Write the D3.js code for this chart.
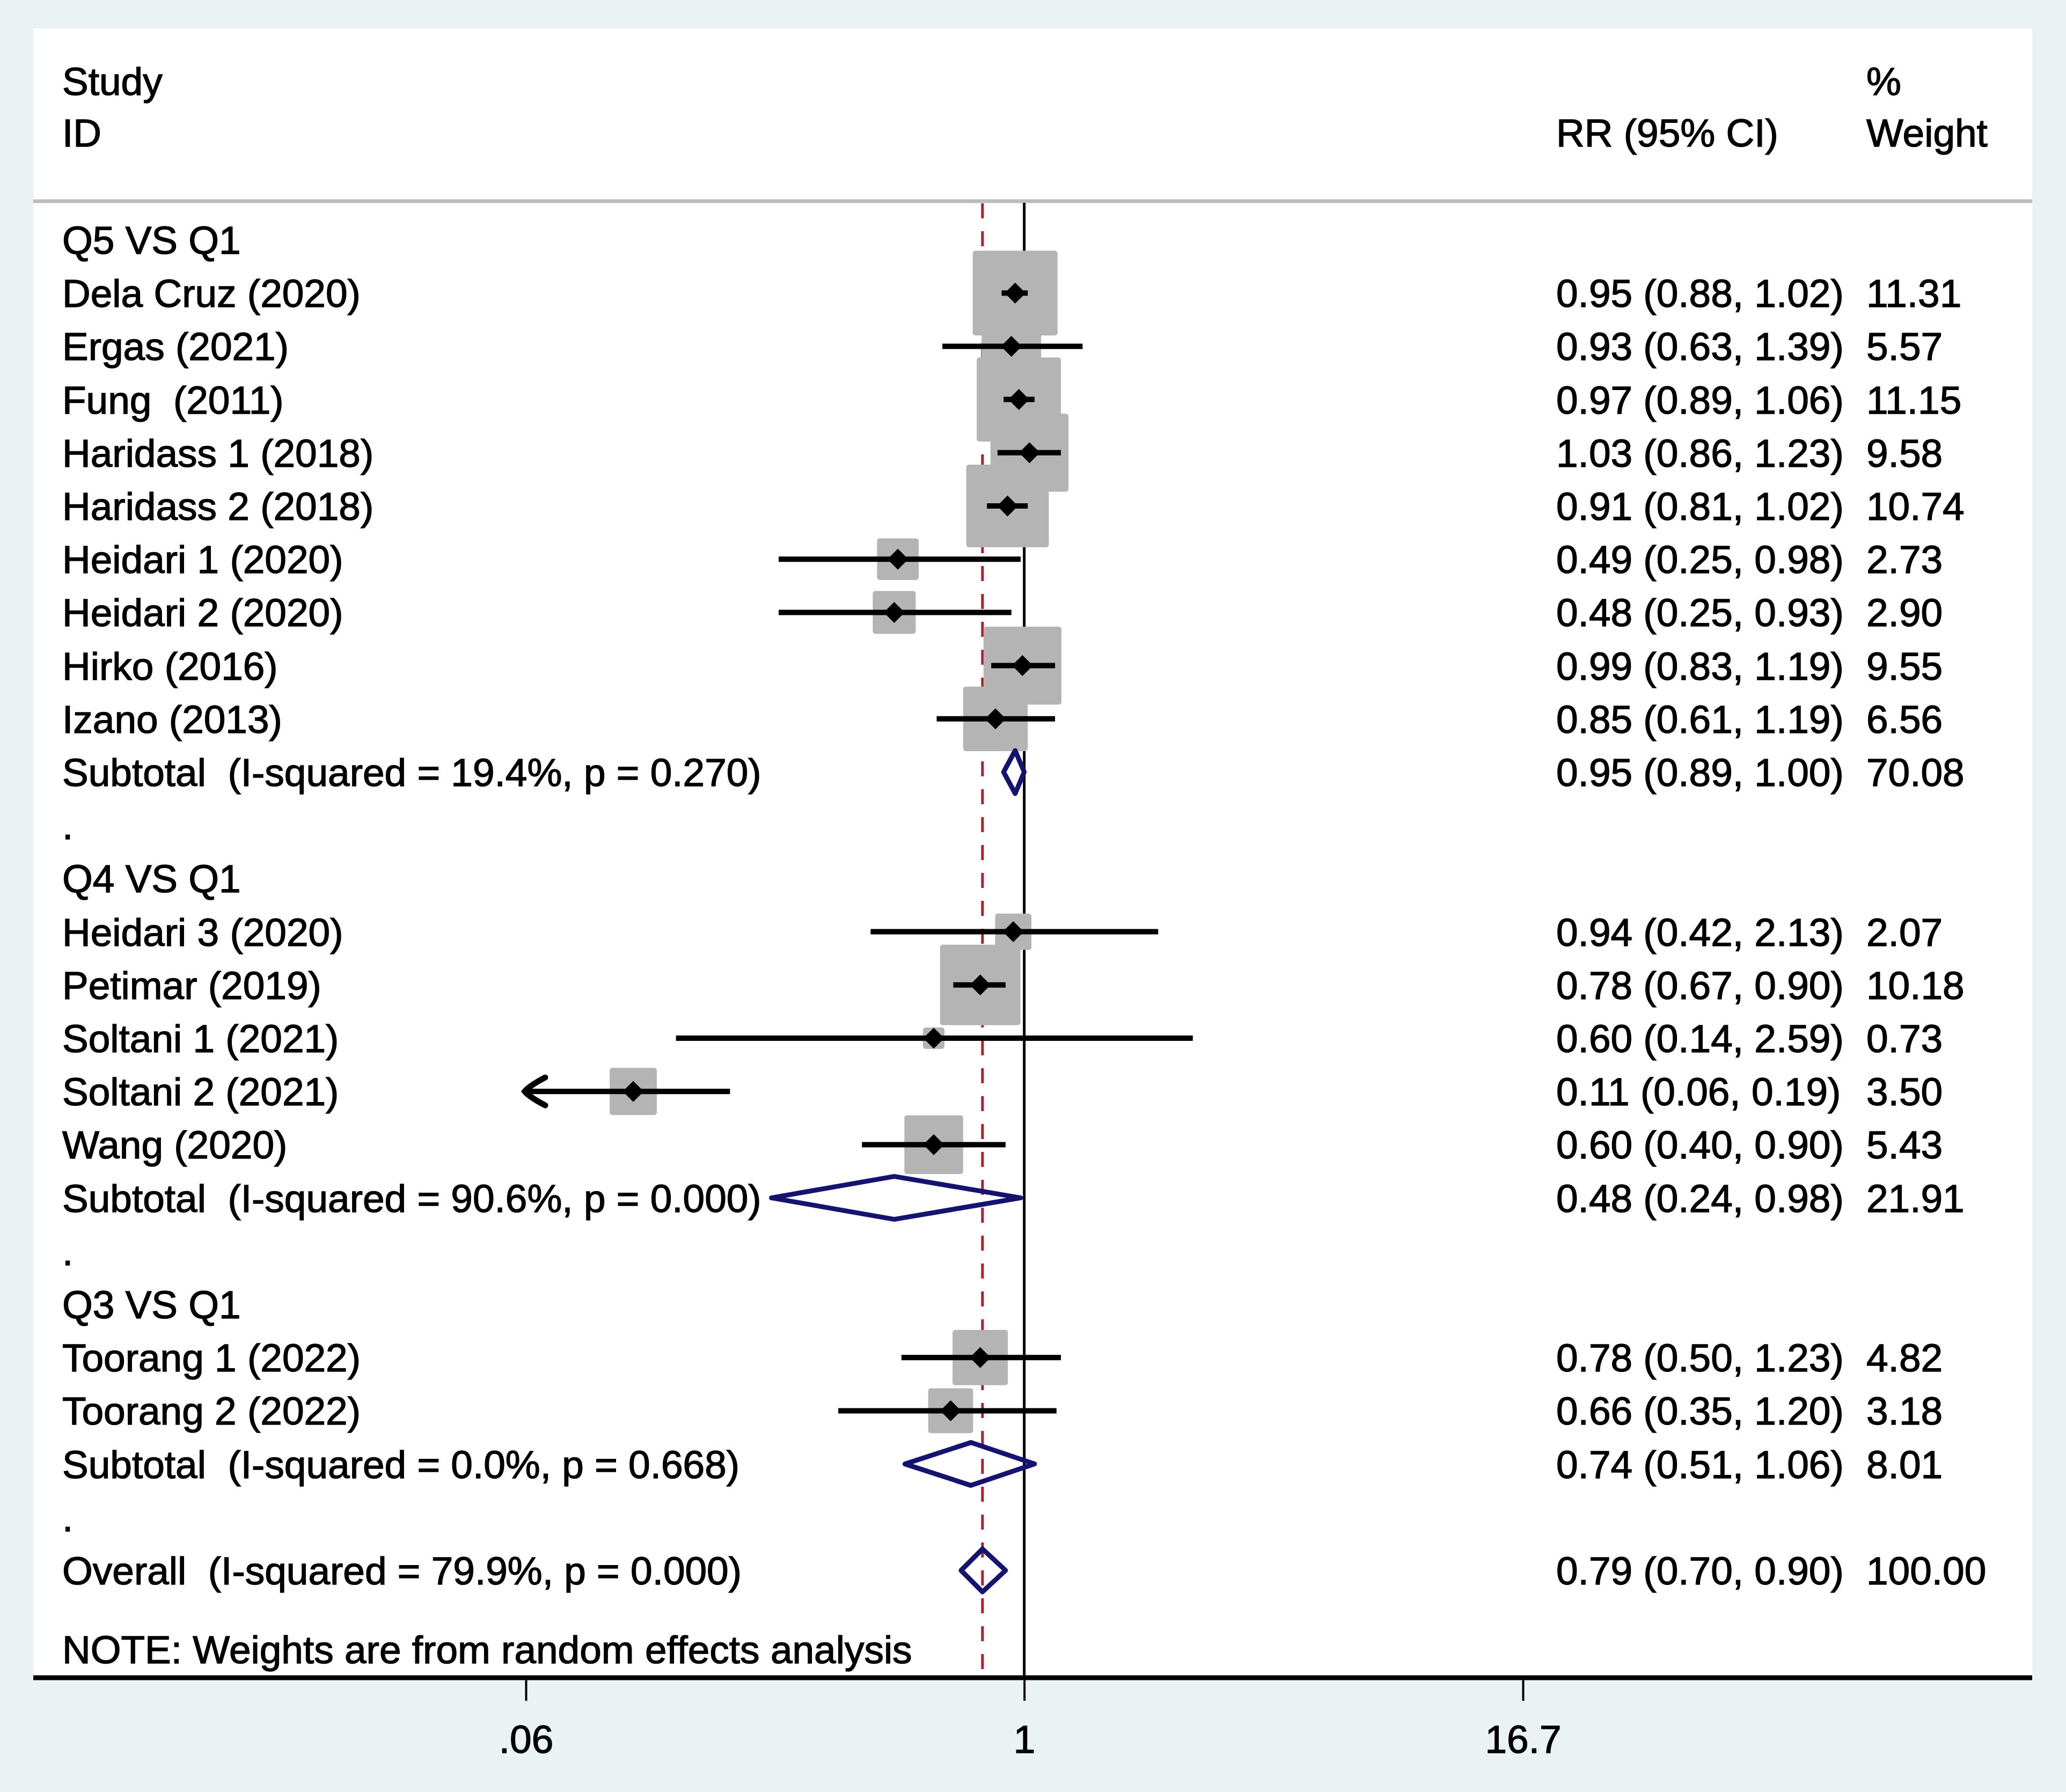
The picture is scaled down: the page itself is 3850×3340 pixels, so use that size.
<!DOCTYPE html>
<html>
<head>
<meta charset="utf-8">
<script src="https://cdn.jsdelivr.net/npm/d3@7"></script>
<style>
  html, body { margin: 0; padding: 0; background: #eaf2f3; }
  svg text { font-family: "Liberation Sans", Arial, sans-serif; white-space: pre; }
</style>
</head>
<body>
<svg id="chart" width="3850" height="3340"></svg>
<script>
// ---------------- DATA ----------------
const groupLabels = ["Q5 VS Q1", "Q4 VS Q1", "Q3 VS Q1"];

const studyNames = [
  "Dela Cruz (2020)", "Ergas (2021)", "Fung  (2011)", "Haridass 1 (2018)", "Haridass 2 (2018)",
  "Heidari 1 (2020)", "Heidari 2 (2020)", "Hirko (2016)", "Izano (2013)",
  "Heidari 3 (2020)", "Petimar (2019)", "Soltani 1 (2021)", "Soltani 2 (2021)", "Wang (2020)",
  "Toorang 1 (2022)", "Toorang 2 (2022)"
];
const studyGroup = [0,0,0,0,0,0,0,0,0, 1,1,1,1,1, 2,2];
const studyRR    = [0.95,0.93,0.97,1.03,0.91,0.49,0.48,0.99,0.85, 0.94,0.78,0.60,0.11,0.60, 0.78,0.66];
const studyLo    = [0.88,0.63,0.89,0.86,0.81,0.25,0.25,0.83,0.61, 0.42,0.67,0.14,0.06,0.40, 0.50,0.35];
const studyHi    = [1.02,1.39,1.06,1.23,1.02,0.98,0.93,1.19,1.19, 2.13,0.90,2.59,0.19,0.90, 1.23,1.20];
const studyWeight= [11.31,5.57,11.15,9.58,10.74,2.73,2.90,9.55,6.56, 2.07,10.18,0.73,3.50,5.43, 4.82,3.18];

const subLabels = [
  "Subtotal  (I-squared = 19.4%, p = 0.270)",
  "Subtotal  (I-squared = 90.6%, p = 0.000)",
  "Subtotal  (I-squared = 0.0%, p = 0.668)"
];
const subRR     = [0.95, 0.48, 0.74];
const subLo     = [0.89, 0.24, 0.51];
const subHi     = [1.00, 0.98, 1.06];
const subWeight = [70.08, 21.91, 8.01];

const overallLabel  = "Overall  (I-squared = 79.9%, p = 0.000)";
const overallRR     = 0.79;
const overallLo     = 0.70;
const overallHi     = 0.90;
const overallWeight = 100.00;

const noteText = "NOTE: Weights are from random effects analysis";

const tickValues = [0.06, 1, 16.7];
const tickLabels = [".06", "1", "16.7"];

// ---------------- BUILD ROWS ----------------
const rows = [];
groupLabels.forEach((g, gi) => {
  rows.push({type: "header", label: g});
  studyNames.forEach((n, i) => {
    if (studyGroup[i] === gi) rows.push({type: "study", label: n, rr: studyRR[i], lo: studyLo[i], hi: studyHi[i], w: studyWeight[i]});
  });
  rows.push({type: "pooled", label: subLabels[gi], rr: subRR[gi], lo: subLo[gi], hi: subHi[gi], w: subWeight[gi]});
  rows.push({type: "blank", label: "."});
});
rows.push({type: "pooled", label: overallLabel, rr: overallRR, lo: overallLo, hi: overallHi, w: overallWeight});
rows.forEach((r, i) => r.idx = i);

// ---------------- LAYOUT ----------------
const W = 3850, H = 3340;
const panel = {x0: 62, x1: 3787, y0: 53};
const sepY = 375, axisY = 3127;
const fontSize = 73;
const baseOff = 26;
const xLabel = 116, xCI = 2900, xW = 3478;

const svg = d3.select("#chart");
const x = d3.scaleLog().domain([0.06, 16.7]).range([980, 2838]);
const y = d3.scaleLinear().domain([0, 25]).range([447, 2927]);
const box = d3.scaleSqrt().domain([0, 11.31]).range([0, 158]);
const f2 = d3.format(".2f");

// background + panel
svg.append("rect").attr("width", W).attr("height", H).attr("fill", "#eaf2f3");
svg.append("rect").attr("x", panel.x0).attr("y", panel.y0)
   .attr("width", panel.x1 - panel.x0).attr("height", axisY - panel.y0).attr("fill", "#ffffff");

// header
const hdr = svg.append("g").attr("font-size", fontSize).attr("fill", "#000")
   .attr("stroke", "#000").attr("stroke-width", 1.4);
hdr.append("text").attr("x", xLabel).attr("y", 177).text("Study");
hdr.append("text").attr("x", xLabel).attr("y", 273).text("ID");
hdr.append("text").attr("x", xCI).attr("y", 273).text("RR (95% CI)");
hdr.append("text").attr("x", xW).attr("y", 177).text("%");
hdr.append("text").attr("x", xW).attr("y", 273).text("Weight");

// separator
svg.append("line").attr("x1", panel.x0).attr("x2", panel.x1).attr("y1", sepY).attr("y2", sepY)
   .attr("stroke", "#bcbcbc").attr("stroke-width", 7);

// null line
svg.append("line").attr("x1", x(1)).attr("x2", x(1)).attr("y1", sepY + 3).attr("y2", axisY)
   .attr("stroke", "#000").attr("stroke-width", 5);

// overall dashed line
svg.append("line").attr("x1", x(overallRR)).attr("x2", x(overallRR)).attr("y1", sepY + 4).attr("y2", axisY)
   .attr("stroke", "#a8232f").attr("stroke-width", 5).attr("stroke-dasharray", "28 24");

// boxes
const studies = rows.filter(r => r.type === "study");
svg.append("g").selectAll("rect").data(studies).join("rect")
   .attr("x", d => x(d.rr) - box(d.w) / 2)
   .attr("y", d => y(d.idx) - box(d.w) / 2)
   .attr("width", d => box(d.w)).attr("height", d => box(d.w))
   .attr("rx", 5).attr("fill", "#b4b4b4");

// CI lines
const xmin = x.domain()[0];
svg.append("g").selectAll("line").data(studies).join("line")
   .attr("x1", d => x(Math.max(d.lo, xmin))).attr("x2", d => x(d.hi))
   .attr("y1", d => y(d.idx)).attr("y2", d => y(d.idx))
   .attr("stroke", "#000").attr("stroke-width", 10);

// arrows for truncated CI
svg.append("g").selectAll("path").data(studies.filter(d => d.lo <= xmin)).join("path")
   .attr("d", d => {
     const tx = x(xmin) - 2, ty = y(d.idx);
     return `M${tx + 38},${ty - 26} Q${tx + 8},${ty - 10} ${tx},${ty} Q${tx + 8},${ty + 10} ${tx + 38},${ty + 26}`;
   })
   .attr("fill", "none").attr("stroke", "#000").attr("stroke-width", 11).attr("stroke-linecap", "round");

// point estimates
const sym = d3.symbol().type(d3.symbolSquare).size(760);
svg.append("g").selectAll("path").data(studies).join("path")
   .attr("d", sym)
   .attr("transform", d => `translate(${x(d.rr)},${y(d.idx)}) rotate(45)`)
   .attr("fill", "#000");

// pooled diamonds
const pooled = rows.filter(r => r.type === "pooled");
svg.append("g").selectAll("path").data(pooled).join("path")
   .attr("d", d => {
     const cy = y(d.idx), h = 40;
     return `M${x(d.lo)},${cy} L${x(d.rr)},${cy - h} L${x(d.hi)},${cy} L${x(d.rr)},${cy + h} Z`;
   })
   .attr("fill", "none").attr("stroke", "#141470").attr("stroke-width", 9).attr("stroke-linejoin", "round");

// left labels
const txt = svg.append("g").attr("font-size", fontSize).attr("fill", "#000")
   .attr("stroke", "#000").attr("stroke-width", 1.4);
txt.selectAll("text.lab").data(rows).join("text").attr("class", "lab")
   .attr("x", xLabel).attr("y", d => y(d.idx) + baseOff)
   .text(d => d.label);

// CI text & weights
const est = rows.filter(r => r.type === "study" || r.type === "pooled");
txt.selectAll("text.ci").data(est).join("text").attr("class", "ci")
   .attr("x", xCI).attr("y", d => y(d.idx) + baseOff)
   .text(d => `${f2(d.rr)} (${f2(d.lo)}, ${f2(d.hi)})`);
txt.selectAll("text.wt").data(est).join("text").attr("class", "wt")
   .attr("x", xW).attr("y", d => y(d.idx) + baseOff)
   .text(d => f2(d.w));

// note
txt.append("text").attr("x", xLabel).attr("y", y(26.5) + baseOff - 2).text(noteText);

// axis
const axis = d3.axisBottom(x).tickValues(tickValues).tickFormat((d, i) => tickLabels[i]).tickSize(43);
const ag = svg.append("g").attr("transform", `translate(0,${axisY})`).call(axis);
ag.select(".domain").remove();
ag.selectAll(".tick line").attr("stroke", "#000").attr("stroke-width", 4);
ag.selectAll(".tick text").attr("y", 140).attr("dy", 0)
  .attr("font-size", fontSize).attr("fill", "#000").attr("stroke", "#000").attr("stroke-width", 1.4)
  .attr("font-family", "Liberation Sans, Arial, sans-serif");
svg.append("line").attr("x1", panel.x0).attr("x2", panel.x1).attr("y1", axisY).attr("y2", axisY)
   .attr("stroke", "#000").attr("stroke-width", 9);
</script>
</body>
</html>
